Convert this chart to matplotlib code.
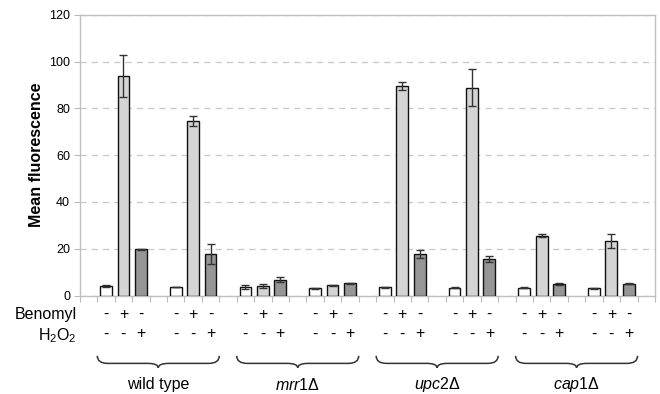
import numpy as np
import matplotlib
matplotlib.use('Agg')
import matplotlib.pyplot as plt
from matplotlib.path import Path
from matplotlib.patches import PathPatch
import matplotlib.transforms as mtransforms

plt.rcParams['font.family'] = ['Liberation Sans', 'DejaVu Sans']
plt.rcParams['mathtext.fontset'] = 'custom'
plt.rcParams['mathtext.rm'] = 'Liberation Sans'
plt.rcParams['mathtext.it'] = 'Liberation Sans:italic'

# data: 8 groups (two per strain), three treatments each
strains = ['wild type', r'$\mathit{mrr1}\Delta$', r'$\mathit{upc2}\Delta$', r'$\mathit{cap1}\Delta$']
control = [4.0, 3.6, 3.6, 3.0, 3.6, 3.3, 3.3, 3.0]
control_err = [0.3, 0.0, 0.8, 0.3, 0.2, 0.2, 0.2, 0.2]
benomyl = [93.9, 74.6, 4.0, 4.3, 89.7, 88.9, 25.6, 23.5]
benomyl_err = [8.8, 2.2, 0.8, 0.3, 1.7, 8.0, 0.7, 3.0]
h2o2 = [19.7, 17.8, 6.8, 5.2, 17.8, 15.6, 4.9, 5.0]
h2o2_err = [0.2, 4.3, 1.0, 0.2, 1.8, 1.3, 0.3, 0.2]
benomyl_signs = ['-', '+', '-']
h2o2_signs = ['-', '-', '+']
yticks = [0, 20, 40, 60, 80, 100, 120]

fig = plt.figure(figsize=(6.6, 3.94), dpi=100)
ax = fig.add_axes([0.121, 0.25, 0.8714, 0.712])

n_groups = len(control)
base = 1 + 4 * np.arange(n_groups)
series = [(control, control_err, 'white'),
          (benomyl, benomyl_err, '#d4d4d4'),
          (h2o2, h2o2_err, '#969696')]
for j, (vals, errs, col) in enumerate(series):
    x = base + j + 0.5
    ax.bar(x, vals, width=0.68, color=col, edgecolor='#111111', linewidth=1.0, zorder=3)
    ax.errorbar(x, vals, yerr=errs, fmt='none', ecolor='#333333', elinewidth=1.0,
                capsize=3, capthick=1.0, zorder=4)

ax.set_xlim(0, 4 * n_groups + 1)
ax.set_ylim(0, 120)
ax.set_yticks(yticks)
ax.tick_params(axis='y', labelsize=9, length=4, color='#bbbbbb', pad=3)
ax.set_xticks(np.arange(0, 4 * n_groups + 2))
ax.set_xticklabels([])
ax.tick_params(axis='x', length=4, color='#bbbbbb')
ax.yaxis.grid(True, linestyle=(0, (5, 4)), color='#c8c8c8', linewidth=0.9, zorder=0)
for s in ax.spines.values():
    s.set_color('#c0c0c0')
    s.set_linewidth(1.0)
ax.set_ylabel('Mean fluorescence', fontsize=11.5, fontweight='bold', labelpad=4)

trans = mtransforms.blended_transform_factory(ax.transData, ax.transAxes)

# sign rows
fig.text(0.116, 1 - 314 / 394, 'Benomyl', ha='right', va='center', fontsize=11.5)
fig.text(0.116, 1 - 336 / 394, r'H$_2$O$_2$', ha='right', va='center', fontsize=11.5)
for g in range(n_groups):
    for j in range(3):
        xc = base[g] + j + 0.5
        ax.text(xc, -0.066, benomyl_signs[j], transform=trans, ha='center', va='center', fontsize=11.5)
        ax.text(xc, -0.137, h2o2_signs[j], transform=trans, ha='center', va='center', fontsize=11.5)

# braces and strain labels
y0, y1, y2 = -0.215, -0.242, -0.258
r = 0.6
for k, name in enumerate(strains):
    x0 = 1 + 8 * k
    x1 = x0 + 7
    xm = (x0 + x1) / 2
    verts = [(x0, y0), (x0, y1), (x0 + r, y1), (xm - r, y1), (xm, y1), (xm, y2),
             (xm, y1), (xm + r, y1), (x1 - r, y1), (x1, y1), (x1, y0)]
    codes = [Path.MOVETO, Path.CURVE3, Path.CURVE3, Path.LINETO, Path.CURVE3, Path.CURVE3,
             Path.CURVE3, Path.CURVE3, Path.LINETO, Path.CURVE3, Path.CURVE3]
    patch = PathPatch(Path(verts, codes), transform=trans, fill=False,
                      edgecolor='#333333', linewidth=1.1, clip_on=False)
    ax.add_patch(patch)
    ax.text(xm, -0.318, name, transform=trans, ha='center', va='center', fontsize=11.5)

fig.savefig('out.png', dpi=100)
